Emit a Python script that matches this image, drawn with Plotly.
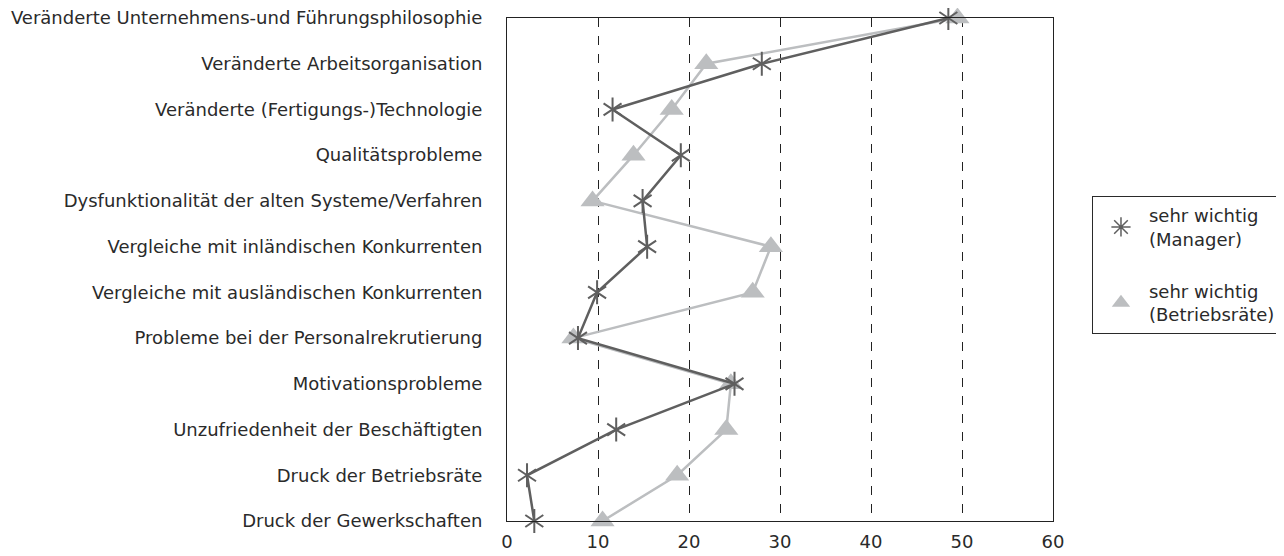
import plotly.graph_objects as go

categories = [
    "Veränderte Unternehmens-und Führungsphilosophie",
    "Veränderte Arbeitsorganisation",
    "Veränderte (Fertigungs-)Technologie",
    "Qualitätsprobleme",
    "Dysfunktionalität der alten Systeme/Verfahren",
    "Vergleiche mit inländischen Konkurrenten",
    "Vergleiche mit ausländischen Konkurrenten",
    "Probleme bei der Personalrekrutierung",
    "Motivationsprobleme",
    "Unzufriedenheit der Beschäftigten",
    "Druck der Betriebsräte",
    "Druck der Gewerkschaften",
]
manager = [48.5, 28.0, 11.6, 19.1, 14.9, 15.4, 9.9, 7.8, 25.0, 12.0, 2.2, 3.0]
betriebsraete = [49.5, 21.9, 18.1, 13.9, 9.4, 29.0, 27.0, 7.3, 24.6, 24.1, 18.7, 10.5]
x_ticks = [0, 10, 20, 30, 40, 50, 60]
legend_names = ["sehr wichtig<br>(Manager)", "sehr wichtig<br>(Betriebsräte)"]

FONT = "DejaVu Sans"
DARK = "#5f5f5f"
LIGHT = "#bcbec0"

fig = go.Figure()
# Betriebsräte line + triangles
fig.add_trace(go.Scatter(
    x=betriebsraete, y=categories, mode="lines+markers", showlegend=False,
    line=dict(color=LIGHT, width=2.5),
    marker=dict(symbol="triangle-up", size=21, color=LIGHT),
    cliponaxis=False,
))
# Manager line
fig.add_trace(go.Scatter(
    x=manager, y=categories, mode="lines", showlegend=False,
    line=dict(color=DARK, width=2.5), cliponaxis=False,
))
# Manager six-armed star = y-up + y-down
for sym in ["y-up-open", "y-down-open"]:
    fig.add_trace(go.Scatter(
        x=manager, y=categories, mode="markers", showlegend=False,
        marker=dict(symbol=sym, size=15, color=DARK,
                    line=dict(color=DARK, width=2)),
        cliponaxis=False,
    ))
# Legend entries
fig.add_trace(go.Scatter(
    x=[None], y=[None], mode="markers", name=legend_names[0],
    legendgroup="m",
    marker=dict(symbol="asterisk-open", size=16, color=DARK,
                line=dict(color=DARK, width=1.5)),
))
fig.add_trace(go.Scatter(
    x=[None], y=[None], mode="markers", name=legend_names[1],
    legendgroup="b",
    marker=dict(symbol="triangle-up", size=20, color=LIGHT),
))

# page body has an 8px margin, so the figure is drawn 8px in from the edges
fig.update_layout(
    width=1276, height=548,
    margin=dict(l=499, r=231, t=10, b=35, autoexpand=False),
    paper_bgcolor="white", plot_bgcolor="white",
    font=dict(family=FONT, size=18, color="#2a2a2a"),
    legend=dict(
        x=1.0714, y=0.646, xanchor="left", yanchor="top",
        bordercolor="#2a2a2a", borderwidth=1,
        font=dict(size=18),
        itemsizing="trace",
        itemwidth=46,
        tracegroupgap=26,
    ),
    xaxis=dict(
        range=[0, 60], tickvals=x_ticks, showgrid=True,
        gridcolor="#222", griddash="dash", gridwidth=1,
        showline=True, linecolor="#222", linewidth=1, mirror=True,
        zeroline=False, ticks="", tickfont=dict(size=18), automargin=False,
        ticklabelstandoff=4,
    ),
    yaxis=dict(
        type="category", categoryorder="array", categoryarray=categories,
        range=[len(categories) - 1, 0],
        showgrid=False, showline=True, linecolor="#222", linewidth=1,
        mirror=True, ticks="", ticklabelstandoff=20, automargin=False,
        tickfont=dict(size=18),
    ),
)
fig.write_html("out.html")
